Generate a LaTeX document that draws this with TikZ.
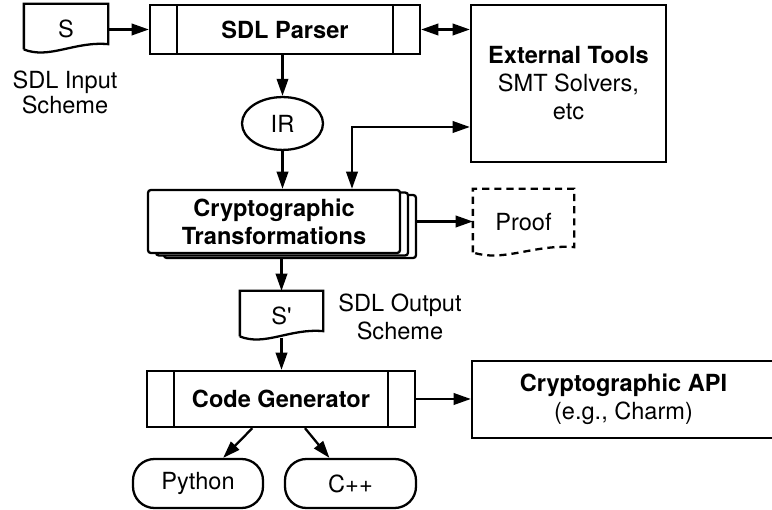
\documentclass[tikz,border=0pt]{standalone}
\usepackage{fontspec}
\setmainfont{TeX Gyre Heros}[Ligatures=TeXOff]
\usetikzlibrary{arrows.meta,calc,shapes.geometric,shadows}

\newcommand{\docline}[2][]{%
  \draw[#1] ([yshift=2.6pt]#2.south west) |- (#2.north east) -- ([yshift=6.3pt]#2.south east)
    .. controls ($(#2.south west)!0.6!(#2.south east)+(0,8.4pt)$)
       and ($(#2.south west)!0.3!(#2.south east)+(0,-4.5pt)$) .. ([yshift=2.6pt]#2.south west);}

\begin{document}
\begin{tikzpicture}[x=0.7pt,y=-0.7pt,
  every path/.style={line width=1.6pt},
  every node/.style={font=\fontsize{16.5}{19.6}\selectfont, inner sep=0pt, align=center},
  >={Triangle[length=12pt,width=8pt]},
  box/.style={draw, rectangle},
  subproc/.style={draw, rectangle,
    path picture={\draw[line width=1.6pt]
      ([xshift=18.9pt]path picture bounding box.north west) -- ([xshift=18.9pt]path picture bounding box.south west)
      ([xshift=-18.9pt]path picture bounding box.north east) -- ([xshift=-18.9pt]path picture bounding box.south east);}},
  doc/.style={rectangle, draw=none},
  term/.style={draw, rectangle, rounded corners=15pt, minimum height=34.3pt}]
\useasboundingbox (0,0) rectangle (772,510);

\node[doc, minimum width=57.4pt, minimum height=32.9pt] (s) at (66,28.5) {S};
\node[font=\fontsize{16.5}{17.5}\selectfont] (inlbl) at (65,92.5) {SDL Input\\Scheme};
\node[subproc, minimum width=189pt, minimum height=34.3pt] (parser) at (285,29.5) {\bfseries SDL Parser};
\node[box, minimum width=136.5pt, minimum height=110pt] (ext) at (568.5,83.5)
  {\textbf{External Tools}\\SMT Solvers,\\etc};
\node[draw, ellipse, minimum width=56.7pt, minimum height=37pt] (ir) at (282.5,123.5) {IR};
\node[draw, rectangle, rounded corners=2pt, fill=white, minimum width=176.4pt, minimum height=44.1pt,
  copy shadow={shadow xshift=11.2pt, shadow yshift=-3.5pt, line width=1.6pt, rounded corners=2pt},
  copy shadow={shadow xshift=5.6pt, shadow yshift=-1.75pt, line width=1.6pt, rounded corners=2pt}]
  (crypto) at (274,221.5) {\bfseries Cryptographic\\\bfseries Transformations};
\node[doc, minimum width=69.3pt, minimum height=45.5pt] (proof) at (523.5,222.5) {Proof};
\node[doc, minimum width=56.7pt, minimum height=32.9pt] (sp) at (281.5,315.5) {S'};
\node (outlbl) at (400,317) {SDL Output\\Scheme};
\node[subproc, minimum width=187.6pt, minimum height=39.2pt] (codegen) at (281,399) {\bfseries Code Generator};
\node[box, minimum width=212.1pt, minimum height=53.9pt] (api) at (623.5,399.5)
  {\textbf{Cryptographic API}\\(e.g., Charm)};
\node[term, minimum width=91pt] (python) at (198,483.5) {Python};
\node[term, minimum width=91.7pt] (cpp) at (350.5,483.5) {C++};

\docline{s}
\docline[dash pattern=on 5pt off 3.5pt]{proof}
\docline{sp}

\coordinate (tap) at (352,127);
\draw[->] (s.east |- parser.west) -- (parser.west);
\draw[<->] (parser.east) -- (parser.east -| ext.west);
\draw[->] (parser.south -| ir) -- (ir);
\draw[->] (ir) -- (ir |- crypto.north);
\draw[<->] (ext.west |- tap) -| (tap |- crypto.north);
\draw[->] ([xshift=11.2pt]crypto.east) -- (crypto.east -| proof.west);
\draw[->] (sp |- crypto.south) ++(0,-3.5pt) -- (sp);
\draw[->] ([yshift=1.5pt]sp.south) -- (sp.south |- codegen.north);
\draw[->] (codegen) -- (codegen -| api.west);
\draw[->] (codegen) -- (python);
\draw[->] (codegen) -- (cpp);
\end{tikzpicture}
\end{document}
